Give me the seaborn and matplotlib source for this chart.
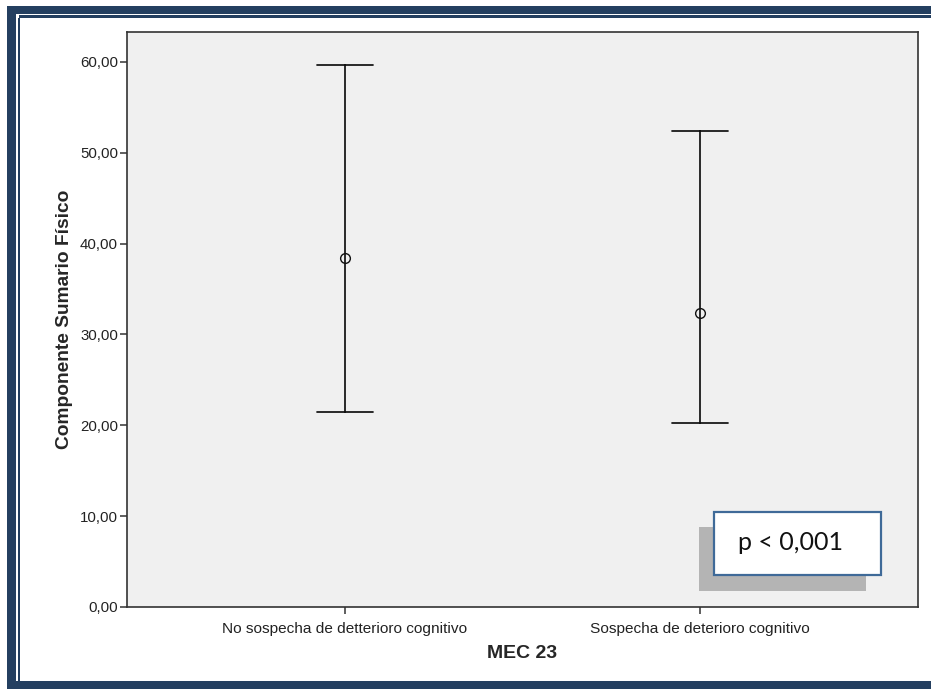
import numpy as np
import pandas as pd
import seaborn as sns
import matplotlib.pyplot as plt
from matplotlib.patches import Rectangle
from matplotlib.ticker import FuncFormatter

# Mean and 95% interval bounds of the physical summary component per group
groups = ["No sospecha de detterioro cognitivo", "Sospecha de deterioro cognitivo"]
lower = [21.5, 20.3]
mean = [38.4, 32.4]
upper = [59.7, 52.4]

rows = []
for g, lo, m, hi in zip(groups, lower, mean, upper):
    for v in (lo, m, hi):
        rows.append({"grupo": g, "valor": v})
df = pd.DataFrame(rows)

sns.set_theme(style="white")
plt.rcParams["font.family"] = ["Liberation Sans", "DejaVu Sans"]

W, H = 931, 689
fig = plt.figure(figsize=(W / 100, H / 100), dpi=100)
fig.patch.set_facecolor("white")

def fx(px):
    return px / W

def fy(py):
    return 1 - py / H

ax = fig.add_axes([fx(127), fy(607), (918 - 127) / W, (607 - 32) / H])
ax.set_facecolor("#F0F0F0")

sns.pointplot(
    data=df, x="grupo", y="valor", order=groups,
    estimator="median", errorbar=lambda v: (np.min(v), np.max(v)),
    capsize=0.16, color="#111111", linestyle="none",
    marker="o", markersize=7, markeredgewidth=1.0,
    err_kws={"linewidth": 1.25}, ax=ax,
)
for ln in ax.lines:
    ln.set_markerfacecolor("none")

ax.set_xlim(-0.614, 1.614)
ax.set_ylim(0, 63.3)
ax.set_yticks(np.arange(0, 61, 10))
ax.yaxis.set_major_formatter(FuncFormatter(lambda v, p: f"{v:.2f}".replace(".", ",")))

for s in ax.spines.values():
    s.set_color("#333333")
    s.set_linewidth(1.2)

ax.tick_params(axis="y", which="both", left=True, length=5, width=1.1,
               color="#333333", labelsize=10.8, pad=1.5, labelcolor="#222222")
ax.tick_params(axis="x", which="both", bottom=True, length=5, width=1.1,
               color="#333333", labelsize=11.1, pad=5.5, labelcolor="#222222")

ax.set_xlabel("MEC 23", fontsize=14, fontweight="bold", labelpad=7)
ax.set_ylabel("Componente Sumario Físico", fontsize=13.8, fontweight="bold", labelpad=5)

# annotation box with drop shadow
fig.patches.append(Rectangle((fx(699), fy(591)), (866 - 699) / W, (591 - 527) / H,
                             transform=fig.transFigure, facecolor="#B4B4B4",
                             edgecolor="none", zorder=5))
fig.patches.append(Rectangle((fx(714), fy(575)), (881 - 714) / W, (575 - 512) / H,
                             transform=fig.transFigure, facecolor="white",
                             edgecolor="#3F6A98", linewidth=1.6, zorder=6))
fig.text(fx(791), fy(543), "p < 0,001", ha="center", va="center",
         fontsize=18, family=["Lato", "DejaVu Sans"], color="#111111", zorder=7)

# dark blue page frame
navy = "#243F60"
fig.patches.append(Rectangle((fx(7), fy(14)), 1, 8 / H, transform=fig.transFigure,
                             facecolor=navy, edgecolor="none", zorder=10))
fig.patches.append(Rectangle((fx(19), fy(17.5)), 1, 2 / H, transform=fig.transFigure,
                             facecolor=navy, edgecolor="none", zorder=10))
fig.patches.append(Rectangle((fx(7), 0), 9 / W, fy(6), transform=fig.transFigure,
                             facecolor=navy, edgecolor="none", zorder=10))
fig.patches.append(Rectangle((fx(18), 0), 2 / W, fy(17.5), transform=fig.transFigure,
                             facecolor=navy, edgecolor="none", zorder=10))
fig.patches.append(Rectangle((fx(7), 0), 1, 8 / H, transform=fig.transFigure,
                             facecolor=navy, edgecolor="none", zorder=10))

fig.savefig("out.png", dpi=100, facecolor="white")
